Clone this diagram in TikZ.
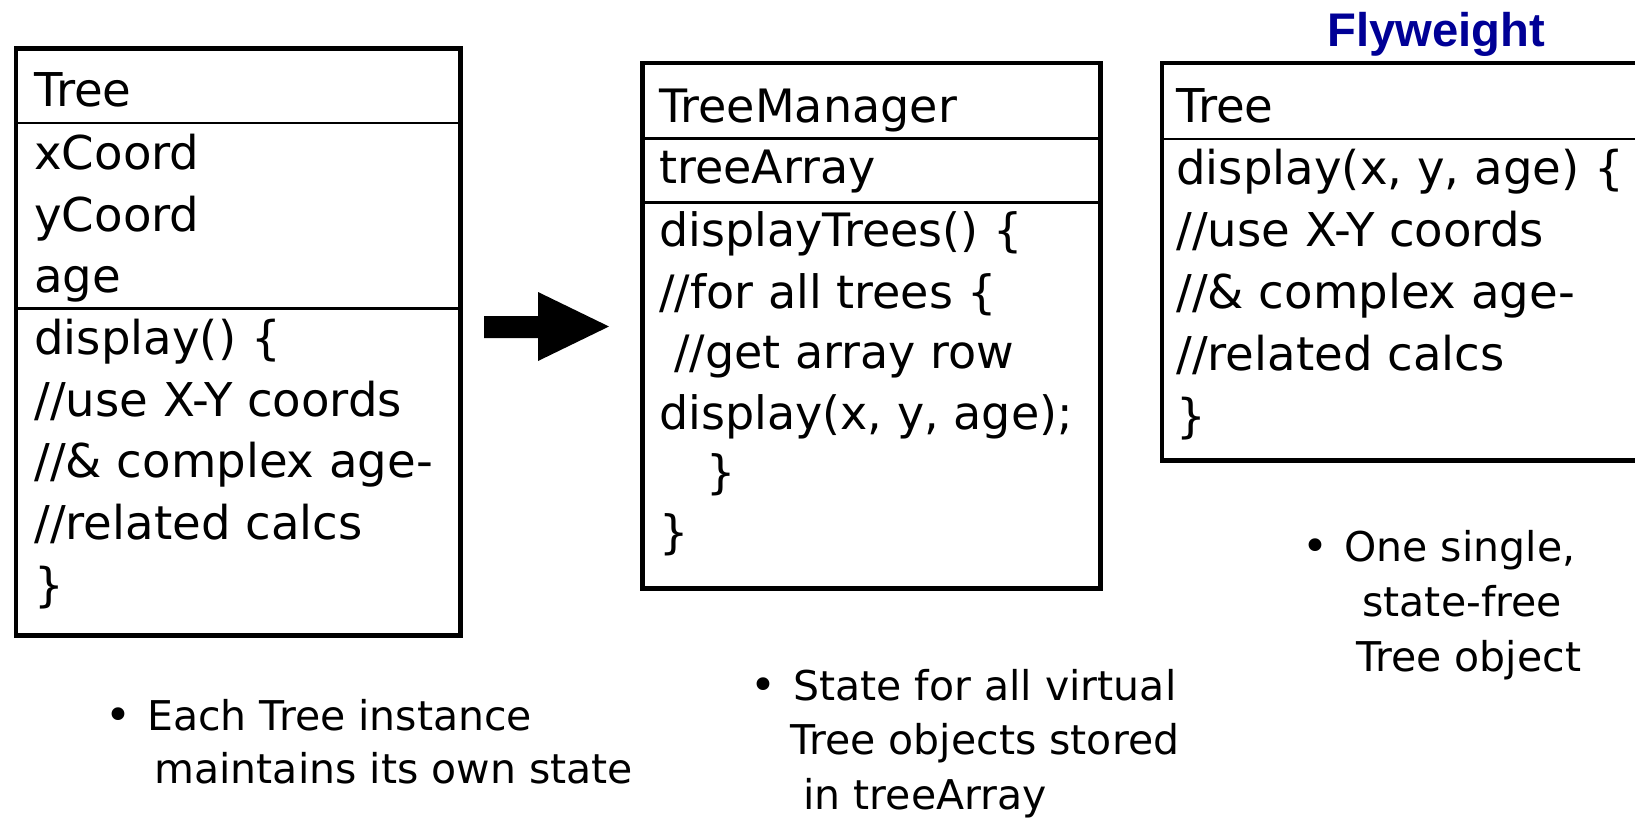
\documentclass[tikz,border=0pt]{standalone}
\usepackage{fontspec}
\setmainfont{DejaVu Sans}
\newfontfamily\flyfont{Liberation Sans}
\usetikzlibrary{fit}
\definecolor{flyblue}{RGB}{0,0,150}
\tikzset{
  umlbox/.style={draw=black, line width=2.4pt, inner sep=0pt},
  divline/.style={draw=black, line width=1.2pt},
  codeA/.style={anchor=base west, inner sep=0pt, font=\fontsize{23.3}{28}\selectfont},
  codeB/.style={anchor=base west, inner sep=0pt, font=\fontsize{23}{27}\selectfont},
  notetext/.style={anchor=base west, inner sep=0pt, font=\fontsize{20.5}{25}\selectfont},
  bulletmark/.style={anchor=base, inner sep=0pt, font=\fontsize{22}{25}\selectfont},
}
\begin{document}
\begin{tikzpicture}[x=0.5pt,y=-0.5pt]
\useasboundingbox (0,0) rectangle (1635,819);
\clip (0,0) rectangle (1635,819);

% ---------- Box 1: Tree (with state)
\node[umlbox, fit={(16,48.5) (460.5,635.5)}] (b1) {};
\draw[divline] (16,123) -- (460.5,123);
\draw[divline] (16,308.5) -- (460.5,308.5);
\node[codeA] (b1l1) at (34,106.5) {Tree};
\node[codeA] (b1l2) at (34,169) {xCoord};
\node[codeA] (b1l3) at (34,231) {yCoord};
\node[codeA] (b1l4) at (34,292) {age};
\node[codeA] (b1l5) at (34,354) {display() \{};
\node[codeA] (b1l6) at (34,416) {//use X-Y coords};
\node[codeA] (b1l7) at (34,477) {//\& complex age-};
\node[codeA] (b1l8) at (34,539) {//related calcs};
\node[codeA] (b1l9) at (34,601) {\}};

% ---------- Block arrow
\fill[black] (484,316) -- (538,316) -- (538,292) -- (609,326.5) -- (538,361)
   -- (538,338) -- (484,338) -- cycle;

% ---------- Box 2: TreeManager
\node[umlbox, fit={(642.5,63) (1100.5,588.5)}] (b2) {};
\draw[divline] (642.5,138.6) -- (1100.5,138.6);
\draw[divline] (642.5,202.4) -- (1100.5,202.4);
\node[codeB] (b2l1) at (659,122.6) {TreeManager};
\node[codeB] (b2l2) at (659,183) {treeArray};
\node[codeB] (b2l3) at (659,246) {displayTrees() \{};
\node[codeB] (b2l4) at (659,308) {//for all trees \{};
\node[codeB] (b2l5) at (674,368) {//get array row};
\node[codeB] (b2l6) at (659,429) {display(x, y, age);};
\node[codeB] (b2l7) at (706,488) {\}};
\node[codeB] (b2l8) at (659,548) {\}};

% ---------- Box 3: Flyweight Tree
\node[anchor=base, inner sep=0pt, text=flyblue,
      font=\flyfont\bfseries\fontsize{23.6}{28}\selectfont] (fw) at (1436,46.7) {Flyweight};
\node[umlbox, fit={(1162,63) (1660,460.5)}] (b3) {};
\draw[divline] (1162,139) -- (1660,139);
\node[codeA] (b3l1) at (1176,122) {Tree};
\node[codeA] (b3l2) at (1176,184) {display(x, y, age) \{};
\node[codeA] (b3l3) at (1176,246) {//use X-Y coords};
\node[codeA] (b3l4) at (1176,308) {//\& complex age-};
\node[codeA] (b3l5) at (1176,370) {//related calcs};
\node[codeA] (b3l6) at (1176,432) {\}};

% ---------- Notes
\node[bulletmark] (n1b) at (118,730) {•};
\node[notetext] (n1l1) at (147,730) {Each Tree instance};
\node[notetext] (n1l2) at (154,783) {maintains its own state};

\node[bulletmark] (n2b) at (763,700) {•};
\node[notetext] (n2l1) at (793,700) {State for all virtual};
\node[notetext] (n2l2) at (790,754) {Tree objects stored};
\node[notetext] (n2l3) at (803,809) {in treeArray};

\node[bulletmark] (n3b) at (1315,561) {•};
\node[notetext] (n3l1) at (1344,561) {One single,};
\node[notetext] (n3l2) at (1362,616) {state-free};
\node[notetext] (n3l3) at (1356,671) {Tree object};
\end{tikzpicture}
\end{document}
